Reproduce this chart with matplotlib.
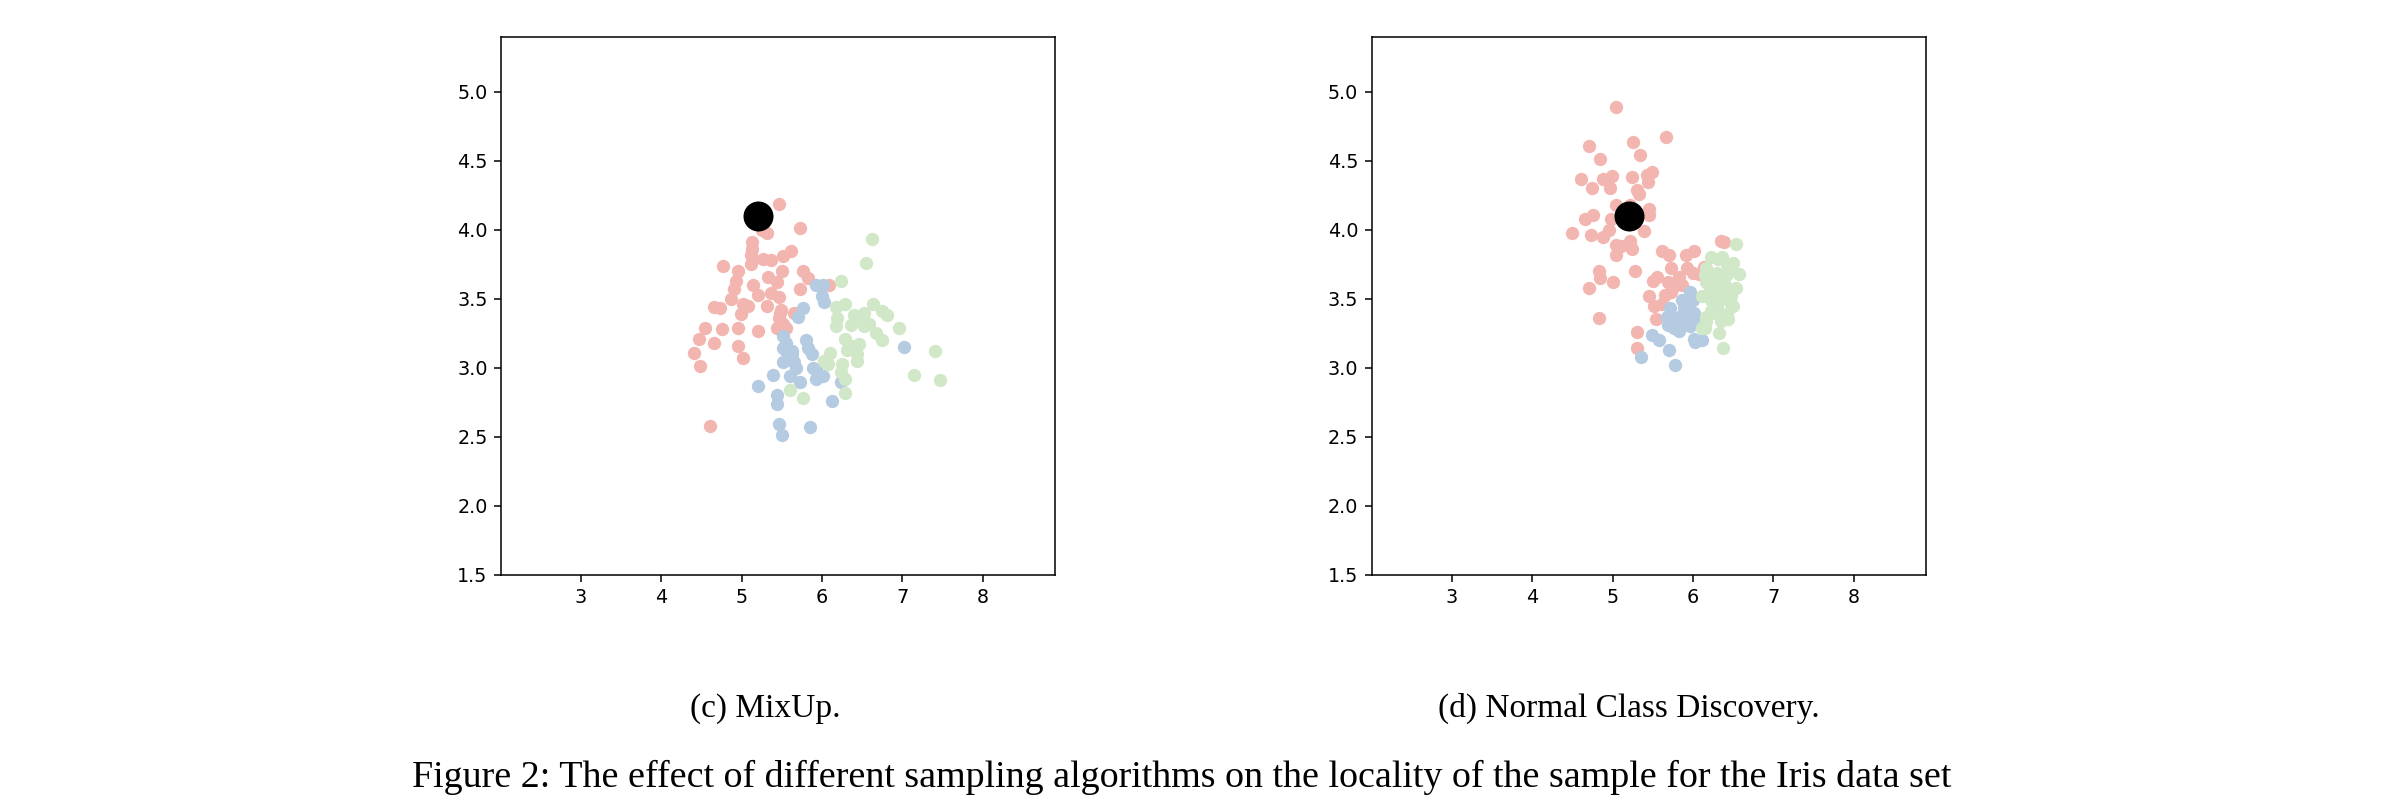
import matplotlib
matplotlib.use("Agg")
import matplotlib.pyplot as plt

# colours of the three classes + the query sample
c_red = '#f2b5af'
c_blue = '#b5cbe2'
c_green = '#d0e8c7'

# (c) MixUp
mix_red_x = [5.47, 5.72, 5.32, 5.25, 5.13, 5.13, 5.12, 4.77, 4.96, 4.93, 4.90, 4.87, 5.11, 5.26, 5.37,
             5.61, 5.52, 5.50, 5.33, 5.44, 5.14, 5.20, 5.36, 5.46, 5.76, 5.82, 5.72, 6.09, 5.02, 5.08,
             4.99, 5.32, 5.49, 5.47, 5.44, 5.55, 5.65, 4.66, 4.73, 4.54, 4.47, 4.75, 4.96, 5.20, 4.65,
             4.95, 4.40, 5.02, 4.48, 4.61, 5.48, 5.52]
mix_red_y = [4.19, 4.01, 3.98, 4.00, 3.91, 3.86, 3.82, 3.74, 3.70, 3.63, 3.57, 3.50, 3.75, 3.79, 3.78,
             3.85, 3.81, 3.70, 3.66, 3.62, 3.60, 3.53, 3.54, 3.51, 3.70, 3.65, 3.57, 3.60, 3.46, 3.45,
             3.39, 3.45, 3.42, 3.36, 3.29, 3.29, 3.40, 3.44, 3.43, 3.29, 3.21, 3.28, 3.29, 3.27, 3.18,
             3.16, 3.11, 3.07, 3.01, 2.58, 3.40, 3.32]
mix_blue_x = [5.93, 6.01, 6.00, 6.02, 5.76, 5.70, 5.52, 5.80, 5.52, 5.82, 5.55, 5.63, 5.87, 5.60, 5.65,
              5.67, 5.51, 5.89, 5.93, 6.01, 5.93, 5.60, 5.39, 5.72, 6.24, 5.20, 5.44, 5.44, 6.13, 5.47,
              5.50, 5.85, 7.02, 5.55, 5.62]
mix_blue_y = [3.60, 3.60, 3.52, 3.48, 3.43, 3.37, 3.23, 3.20, 3.14, 3.14, 3.12, 3.12, 3.10, 3.07, 3.04,
              3.00, 3.04, 3.00, 2.99, 2.94, 2.92, 2.94, 2.95, 2.90, 2.90, 2.87, 2.80, 2.74, 2.76, 2.59,
              2.51, 2.57, 3.15, 3.18, 3.10]
mix_green_x = [6.62, 6.55, 6.24, 6.17, 6.29, 6.19, 6.17, 6.40, 6.52, 6.63, 6.75, 6.81, 6.36, 6.52, 6.67,
               6.75, 6.96, 6.29, 6.46, 6.31, 6.10, 6.02, 6.43, 6.25, 6.23, 6.29, 6.29, 7.14, 7.41, 7.47,
               5.60, 5.76, 6.45, 6.58, 6.36, 6.43, 6.08]
mix_green_y = [3.93, 3.76, 3.63, 3.44, 3.46, 3.36, 3.30, 3.38, 3.40, 3.46, 3.41, 3.38, 3.31, 3.30, 3.25,
               3.20, 3.29, 3.21, 3.17, 3.13, 3.11, 3.05, 3.05, 3.03, 2.97, 2.92, 2.82, 2.95, 3.12, 2.91,
               2.84, 2.78, 3.37, 3.32, 3.16, 3.10, 3.03]

# (d) Normal Class Discovery
ncd_red_x = [5.04, 5.67, 5.26, 4.71, 5.34, 4.84, 4.61, 4.88, 4.99, 5.24, 5.43, 5.49, 5.44, 4.75, 4.97,
             5.33, 5.30, 5.04, 5.22, 5.45, 5.45, 4.76, 4.66, 4.98, 4.50, 4.73, 4.88, 4.96, 5.22, 5.39,
             5.04, 5.10, 5.24, 5.04, 5.62, 5.70, 5.91, 6.01, 6.35, 6.39, 5.28, 4.83, 4.85, 4.71, 5.01,
             4.83, 5.51, 5.56, 5.73, 5.69, 5.83, 5.93, 6.00, 6.08, 6.14, 5.46, 5.65, 5.52, 5.54, 5.31,
             5.31, 5.79, 5.86, 5.73, 5.62]
ncd_red_y = [4.89, 4.67, 4.64, 4.61, 4.54, 4.51, 4.37, 4.37, 4.39, 4.38, 4.40, 4.42, 4.35, 4.30, 4.30,
             4.26, 4.29, 4.18, 4.18, 4.15, 4.11, 4.11, 4.08, 4.08, 3.98, 3.96, 3.95, 4.00, 3.92, 3.99,
             3.89, 3.88, 3.86, 3.82, 3.85, 3.82, 3.82, 3.85, 3.92, 3.91, 3.70, 3.70, 3.65, 3.58, 3.62,
             3.36, 3.63, 3.66, 3.72, 3.62, 3.66, 3.72, 3.69, 3.68, 3.73, 3.52, 3.53, 3.45, 3.35, 3.26,
             3.14, 3.60, 3.60, 3.55, 3.46]
ncd_blue_x = [5.49, 5.58, 5.70, 5.35, 5.78, 5.68, 5.77, 5.83, 5.86, 5.89, 5.97, 6.00, 6.01, 5.94, 6.05,
              6.01, 6.11, 6.03, 5.72, 5.83, 5.81, 5.92, 5.96, 5.69]
ncd_blue_y = [3.24, 3.20, 3.13, 3.08, 3.02, 3.37, 3.29, 3.27, 3.49, 3.43, 3.55, 3.49, 3.40, 3.37, 3.34,
              3.21, 3.20, 3.19, 3.43, 3.37, 3.31, 3.44, 3.30, 3.31]
ncd_green_x = [6.54, 6.22, 6.36, 6.50, 6.57, 6.16, 6.30, 6.39, 6.54, 6.16, 6.28, 6.11, 6.22, 6.33, 6.47,
               6.50, 6.42, 6.28, 6.16, 6.15, 6.32, 6.38, 6.44, 6.31, 6.43, 6.48, 6.15, 6.25, 6.40, 6.23,
               6.44, 6.48, 6.23, 6.17, 6.35, 6.12, 6.30, 6.21, 6.36, 6.42]
ncd_green_y = [3.90, 3.80, 3.80, 3.76, 3.68, 3.72, 3.69, 3.66, 3.58, 3.62, 3.57, 3.52, 3.49, 3.49, 3.52,
               3.45, 3.39, 3.40, 3.37, 3.29, 3.25, 3.14, 3.35, 3.79, 3.75, 3.75, 3.67, 3.62, 3.60, 3.53,
               3.50, 3.46, 3.41, 3.34, 3.34, 3.29, 3.44, 3.58, 3.55, 3.68]

query = (5.2, 4.1)
subtitles = ['(c) MixUp.', '(d) Normal Class Discovery.']
caption = 'Figure 2: The effect of different sampling algorithms on the locality of the sample for the Iris data set'

W, H = 2392, 800
fig = plt.figure(figsize=(W / 100, H / 100), dpi=100)

panels = [
    (mix_red_x, mix_red_y, mix_blue_x, mix_blue_y, mix_green_x, mix_green_y),
    (ncd_red_x, ncd_red_y, ncd_blue_x, ncd_blue_y, ncd_green_x, ncd_green_y),
]
lefts = [500.7, 1371.5]
sub_x = [765, 1629]

for i, p in enumerate(panels):
    ax = fig.add_axes([lefts[i] / W, (H - 574.7) / H, 554.3 / W, 538 / H])
    ax.scatter(p[0], p[1], s=92, color=c_red, linewidths=0)
    ax.scatter(p[2], p[3], s=92, color=c_blue, linewidths=0)
    ax.scatter(p[4], p[5], s=92, color=c_green, linewidths=0)
    ax.scatter([query[0]], [query[1]], s=467, color='black', linewidths=0)
    ax.set_xlim(2.0, 8.9)
    ax.set_ylim(1.5, 5.4)
    ax.set_xticks([3, 4, 5, 6, 7, 8])
    ax.set_yticks([1.5, 2.0, 2.5, 3.0, 3.5, 4.0, 4.5, 5.0])
    ax.tick_params(labelsize=13.8, length=4.7, width=1.1, pad=4.8)
    for sp in ax.spines.values():
        sp.set_linewidth(1.1)
    fig.text(sub_x[i] / W, 1 - 716.7 / H, subtitles[i], ha='center', va='baseline',
             fontsize=24, family='Liberation Serif')

fig.text(1182 / W, 1 - 786.7 / H, caption, ha='center', va='baseline',
         fontsize=27.4, family='Liberation Serif')

fig.savefig('out.png', dpi=100)
